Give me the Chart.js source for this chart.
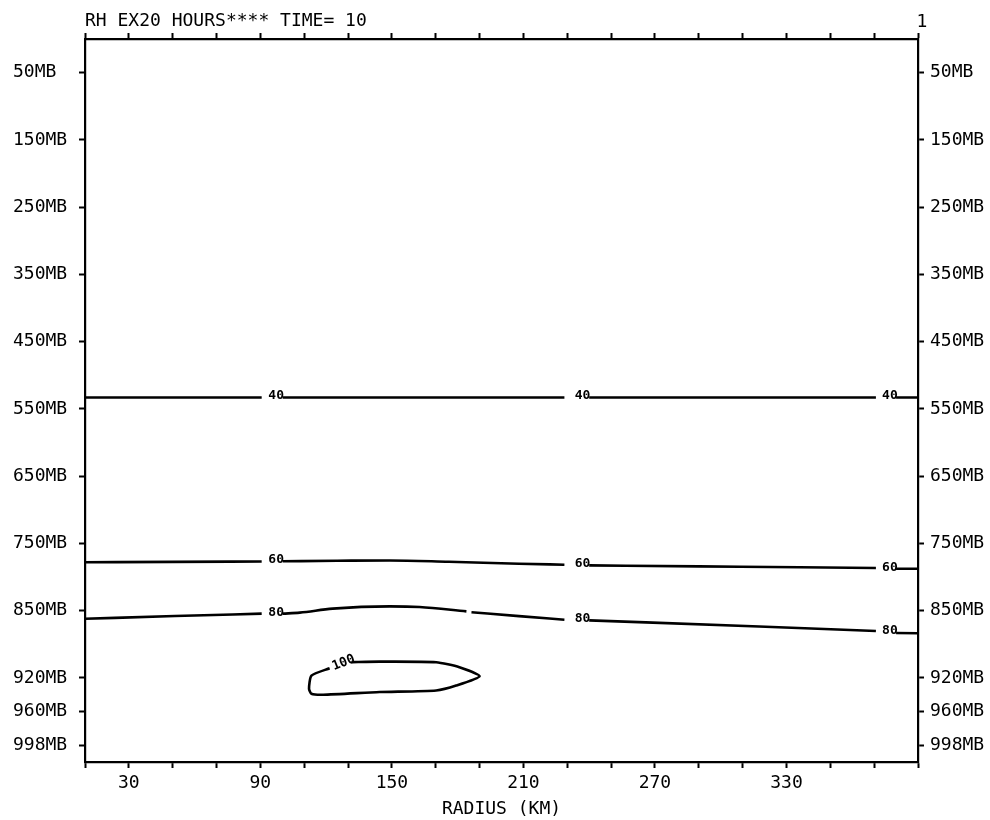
<!DOCTYPE html>
<html>
<head>
<meta charset="utf-8">
<script src="https://cdn.jsdelivr.net/npm/chart.js@4.4.1/dist/chart.umd.min.js"></script>
<style>
html,body{margin:0;padding:0;background:#fff;}
#wrap{width:990px;height:820px;}
</style>
</head>
<body>
<div id="wrap"><canvas id="c" width="990" height="820"></canvas></div>
<script>
// ---------- text ----------
const chartTitle = 'RH EX20 HOURS**** TIME= 10';
const frameNumber = '1';
const xAxisTitle = 'RADIUS (KM)';

// ---------- horizontal axis (radius, km) ----------
const radiusMin = 10;
const radiusMax = 390;
const radiusTicks = [10, 30, 50, 70, 90, 110, 130, 150, 170, 190, 210, 230, 250, 270, 290, 310, 330, 350, 370, 390];
const radiusTickLabels = [30, 90, 150, 210, 270, 330];

// ---------- vertical axis (model levels, labelled in mb) ----------
const pressureTicks = [50, 150, 250, 350, 450, 550, 650, 750, 850, 920, 960, 998];
const pressureTickLabels = ['50MB', '150MB', '250MB', '350MB', '450MB', '550MB', '650MB', '750MB', '850MB', '920MB', '960MB', '998MB'];
const levelIndex = [0, 1, 2, 3, 4, 5, 6, 7, 8, 9, 9.5, 10];
const levelMin = -0.5;
const levelMax = 10.25;

// ---------- RH contours (radius km, pressure mb; null = break for label) ----------
const rh40Radius = [10, 50, 90.6, 95, 100.2, 160, 228.7, 234, 240, 300, 370.8, 375, 380, 390];
const rh40Press  = [533, 533, 533, null, 533, 533, 533, null, 533, 533, 533, null, 533, 533];

const rh60Radius = [10, 50, 90.6, 95, 100.2, 125, 149, 176, 208, 228.7, 234, 240, 290, 336, 370.8, 375, 380, 390];
const rh60Press  = [778, 777.5, 776.8, null, 776.5, 775.8, 775.3, 777.3, 780.2, 781.7, null, 782.7, 784.2, 785.4, 786.6, null, 787.6, 787.6];

const rh80Radius = [10, 51, 90.6, 95, 100.2, 108, 123, 149, 162.6, 184, 185, 186.3, 208, 228.7, 234, 240, 317.5, 370.8, 375, 380, 390];
const rh80Press  = [858.4, 855.6, 853.1, null, 853.1, 852, 847, 843.6, 844.5, 850.7, null, 851.6, 855.7, 859.4, null, 860.1, 866.4, 871.2, null, 873.3, 873.5];

const rh100Radius = [131.5, 144.4, 170.2, 180.8, 190, 179.3, 170.2, 144.4, 118.6, 113.3, 112.2, 113.3, 121.6];
const rh100Press  = [903.6, 903.0, 903.6, 908.8, 918.2, 929.1, 934.9, 936.8, 940, 938.8, 932.9, 917.6, 909.9];

// contour label texts and where they sit along the lines
const contourValues = ['40', '60', '80'];
const contourLabelRadius = [97.2, 237, 377.2];
const label100Text = '100';
const label100Radius = 128;
const label100Press = 904.3;
const label100Angle = -22;

// ---------- helpers ----------
function levelOf(p) {
  if (p === null || p === undefined) return null;
  const P = pressureTicks, L = levelIndex;
  let i = 0;
  if (p <= P[0]) i = 0;
  else if (p >= P[P.length - 1]) i = P.length - 2;
  else { while (!(p >= P[i] && p <= P[i + 1])) i++; }
  return L[i] + (p - P[i]) * (L[i + 1] - L[i]) / (P[i + 1] - P[i]);
}
function toPoints(R, P) {
  return R.map((r, i) => ({ x: r, y: levelOf(P[i]) }));
}
function interpAt(R, P, r) {
  let lo = null, hi = null;
  for (let i = 0; i < R.length; i++) {
    if (P[i] === null) continue;
    if (R[i] <= r) lo = i;
    if (R[i] >= r && hi === null) hi = i;
  }
  if (lo === null) return P[hi];
  if (hi === null) return P[lo];
  if (R[hi] === R[lo]) return P[lo];
  return P[lo] + (P[hi] - P[lo]) * (r - R[lo]) / (R[hi] - R[lo]);
}

const FONT = '"DejaVu Sans Mono", "DejaVu Sans", monospace';
const lineStyle = {
  borderColor: '#000', backgroundColor: '#000', borderWidth: 2.6,
  pointRadius: 0, showLine: true, spanGaps: false, fill: false
};

const contourLines = [
  [rh40Radius, rh40Press],
  [rh60Radius, rh60Press],
  [rh80Radius, rh80Press]
];

const contourLabelPlugin = {
  id: 'contourLabels',
  afterDatasetsDraw(chart) {
    const ctx = chart.ctx;
    const xs = chart.scales.x, ys = chart.scales.y;
    ctx.save();
    ctx.fillStyle = '#000';
    ctx.font = 'bold 13px ' + FONT;
    ctx.textAlign = 'center';
    ctx.textBaseline = 'alphabetic';
    contourLines.forEach((ln, k) => {
      contourLabelRadius.forEach(r => {
        const p = interpAt(ln[0], ln[1], r);
        const px = xs.getPixelForValue(r);
        const py = ys.getPixelForValue(levelOf(p));
        ctx.fillText(contourValues[k], px, py + 2);
      });
    });
    const qx = xs.getPixelForValue(label100Radius);
    const qy = ys.getPixelForValue(levelOf(label100Press));
    ctx.translate(qx, qy);
    ctx.rotate(label100Angle * Math.PI / 180);
    ctx.textBaseline = 'middle';
    ctx.fillText(label100Text, 0, 0);
    ctx.restore();
  },
  afterDraw(chart) {
    const ctx = chart.ctx;
    ctx.save();
    ctx.fillStyle = '#000';
    ctx.font = '18px ' + FONT;
    ctx.textAlign = 'center';
    ctx.textBaseline = 'middle';
    ctx.fillText(frameNumber, chart.chartArea.right + 4, 22);
    ctx.restore();
  }
};

const PLOT_LEFT = 85, PLOT_RIGHT = 918, PLOT_TOP = 39, PLOT_BOTTOM = 762;
const W = 990, H = 820, PAD_LEFT = 13;

const axisCommon = {
  border: { display: true, color: '#000', width: 2.2 },
  grid: { display: true, drawOnChartArea: false, drawTicks: true, tickLength: 6, tickWidth: 2, tickColor: '#000', color: '#000' }
};

new Chart(document.getElementById('c'), {
  type: 'scatter',
  data: {
    datasets: [
      Object.assign({ label: 'RH 40', data: toPoints(rh40Radius, rh40Press), cubicInterpolationMode: 'monotone' }, lineStyle),
      Object.assign({ label: 'RH 60', data: toPoints(rh60Radius, rh60Press), cubicInterpolationMode: 'monotone' }, lineStyle),
      Object.assign({ label: 'RH 80', data: toPoints(rh80Radius, rh80Press), cubicInterpolationMode: 'monotone' }, lineStyle),
      Object.assign({ label: 'RH 100', data: toPoints(rh100Radius, rh100Press), tension: 0.2 }, lineStyle)
    ]
  },
  options: {
    responsive: false,
    devicePixelRatio: 1,
    animation: false,
    layout: { padding: { left: PAD_LEFT, right: 0, top: 0, bottom: 0 } },
    plugins: { legend: { display: false }, tooltip: { enabled: false }, title: { display: false } },
    scales: {
      x: Object.assign({}, axisCommon, {
        type: 'linear', position: 'bottom', min: radiusMin, max: radiusMax,
        afterBuildTicks: s => { s.ticks = radiusTicks.map(v => ({ value: v })); },
        afterFit: s => { s.height = H - PLOT_BOTTOM; },
        ticks: {
          autoSkip: false, maxRotation: 0, padding: 5, color: '#000',
          font: { family: FONT, size: 18 },
          callback: v => radiusTickLabels.includes(v) ? String(v) : ''
        },
        title: { display: true, text: xAxisTitle, color: '#000', font: { family: FONT, size: 18 }, padding: { top: 0, bottom: 0 } }
      }),
      xTop: Object.assign({}, axisCommon, {
        type: 'linear', position: 'top', min: radiusMin, max: radiusMax,
        afterBuildTicks: s => { s.ticks = radiusTicks.map(v => ({ value: v })); },
        afterFit: s => { s.height = PLOT_TOP; },
        ticks: { display: false },
        title: { display: true, text: chartTitle, align: 'start', color: '#000', font: { family: FONT, size: 18 }, padding: { top: 11, bottom: 0 } }
      }),
      y: Object.assign({}, axisCommon, {
        type: 'linear', position: 'left', min: levelMin, max: levelMax, reverse: true,
        afterBuildTicks: s => { s.ticks = levelIndex.map(v => ({ value: v })); },
        afterFit: s => { s.width = PLOT_LEFT - PAD_LEFT; },
        ticks: {
          autoSkip: false, crossAlign: 'far', padding: 6, color: '#000',
          font: { family: FONT, size: 18 },
          callback: v => { const i = levelIndex.indexOf(v); return i >= 0 ? pressureTickLabels[i] : ''; }
        }
      }),
      yRight: Object.assign({}, axisCommon, {
        type: 'linear', position: 'right', min: levelMin, max: levelMax, reverse: true,
        afterBuildTicks: s => { s.ticks = levelIndex.map(v => ({ value: v })); },
        afterFit: s => { s.width = W - PLOT_RIGHT; },
        ticks: {
          autoSkip: false, crossAlign: 'near', padding: 6, color: '#000',
          font: { family: FONT, size: 18 },
          callback: v => { const i = levelIndex.indexOf(v); return i >= 0 ? pressureTickLabels[i] : ''; }
        }
      })
    }
  },
  plugins: [contourLabelPlugin]
});
</script>
</body>
</html>
